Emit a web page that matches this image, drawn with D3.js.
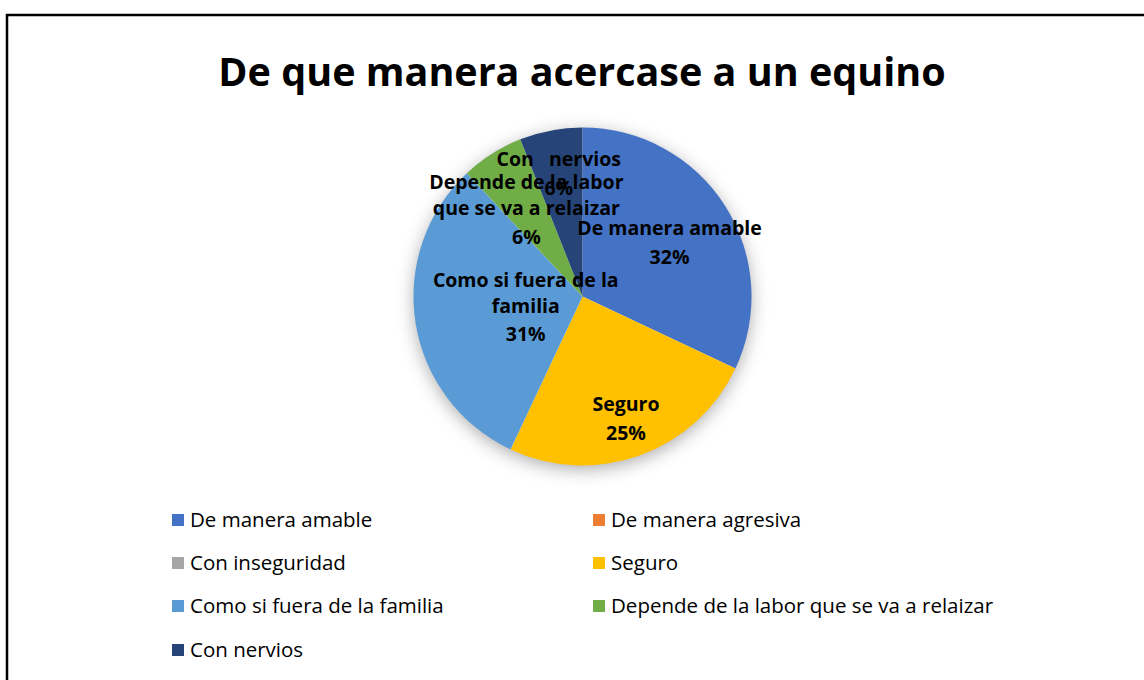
<!DOCTYPE html>
<html lang="es">
<head>
<meta charset="UTF-8">
<title>De que manera acercase a un equino</title>
<script src="https://d3js.org/d3.v7.min.js"></script>
<style>
    body { margin: 0; background: #fff; }
    svg { display: block; font-family: "Open Sans", "Lato", sans-serif; }
    .title { font-size: 39.5px; font-weight: bold; text-anchor: middle; fill: #000; }
    .slice-label { font-size: 19.5px; font-weight: bold; text-anchor: middle; fill: #000; }
    .legend-text { font-size: 20.5px; fill: #000; }
</style>
</head>
<body>
<div id="chart"></div>
<script>
    const categories = ["De manera amable", "De manera agresiva", "Con inseguridad", "Seguro",
        "Como si fuera de la familia", "Depende de la labor que se va a relaizar", "Con nervios"];
    const values = [32, 0, 0, 25, 31, 6, 6];
    const colors = ["#4472C4", "#ED7D31", "#A5A5A5", "#FFC000", "#5B9BD5", "#70AD47", "#264478"];
    // how the data labels wrap inside the pie
    const labelLines = [
        ["De manera amable"], [], [], ["Seguro"],
        ["Como si fuera de la", "familia"], ["Depende de la labor", "que se va a relaizar"], ["Con   nervios"]
    ];
    const labelRadius = [0.61, 0, 0, 0.76, 0.34, 0.62, 0.75];

    const W = 1144, H = 680;
    const cx = 582.5, cy = 296.5, R = 169;

    const svg = d3.select("#chart").append("svg")
        .attr("width", W).attr("height", H);

    // outer border of the chart (runs off the right and bottom)
    svg.append("rect")
        .attr("x", 7).attr("y", 15)
        .attr("width", W + 20).attr("height", H + 20)
        .attr("fill", "none").attr("stroke", "#000").attr("stroke-width", 2.5);

    svg.append("text")
        .attr("class", "title")
        .attr("x", 582).attr("y", 86)
        .text("De que manera acercase a un equino");

    const defs = svg.append("defs");
    const shadow = defs.append("filter").attr("id", "shadow")
        .attr("x", "-30%").attr("y", "-30%").attr("width", "160%").attr("height", "160%");
    shadow.append("feDropShadow")
        .attr("dx", 0).attr("dy", 4).attr("stdDeviation", 9)
        .attr("flood-color", "#000").attr("flood-opacity", 0.35);

    const pie = d3.pie().value(d => d).sort(null);
    const arcs = pie(values);
    const arc = d3.arc().innerRadius(0).outerRadius(R);

    const g = svg.append("g").attr("transform", `translate(${cx},${cy})`);

    g.append("circle").attr("r", R - 1).attr("fill", "#fff").attr("filter", "url(#shadow)");

    g.selectAll("path.slice")
        .data(arcs)
        .enter()
        .append("path")
        .attr("class", "slice")
        .attr("d", arc)
        .attr("fill", (d, i) => colors[i]);

    const lineH = 26;
    arcs.forEach((a, i) => {
        if (values[i] === 0) return;
        const mid = (a.startAngle + a.endAngle) / 2;
        const r = R * labelRadius[i];
        const lx = Math.sin(mid) * r;
        const ly = -Math.cos(mid) * r;
        const lines = labelLines[i].concat([values[i] + "%"]);
        const t = g.append("text")
            .attr("class", "slice-label")
            .attr("x", lx)
            .attr("y", ly - (lines.length - 1) * lineH / 2 + 7)
            .attr("xml:space", "preserve");
        lines.forEach((s, k) => {
            t.append("tspan")
                .attr("x", lx)
                .attr("dy", k === 0 ? 0 : (k === lines.length - 1 ? lineH + 3 : lineH))
                .text(s);
        });
    });

    // legend, two columns
    const colX = [172, 593];
    const rowY = [520, 563, 606, 650];
    const legend = svg.append("g");
    categories.forEach((c, i) => {
        const x = colX[i % 2], y = rowY[Math.floor(i / 2)];
        legend.append("rect")
            .attr("x", x).attr("y", y - 6)
            .attr("width", 12).attr("height", 12)
            .attr("fill", colors[i]);
        legend.append("text")
            .attr("class", "legend-text")
            .attr("x", x + 18).attr("y", y + 7)
            .text(c);
    });
</script>
</body>
</html>
